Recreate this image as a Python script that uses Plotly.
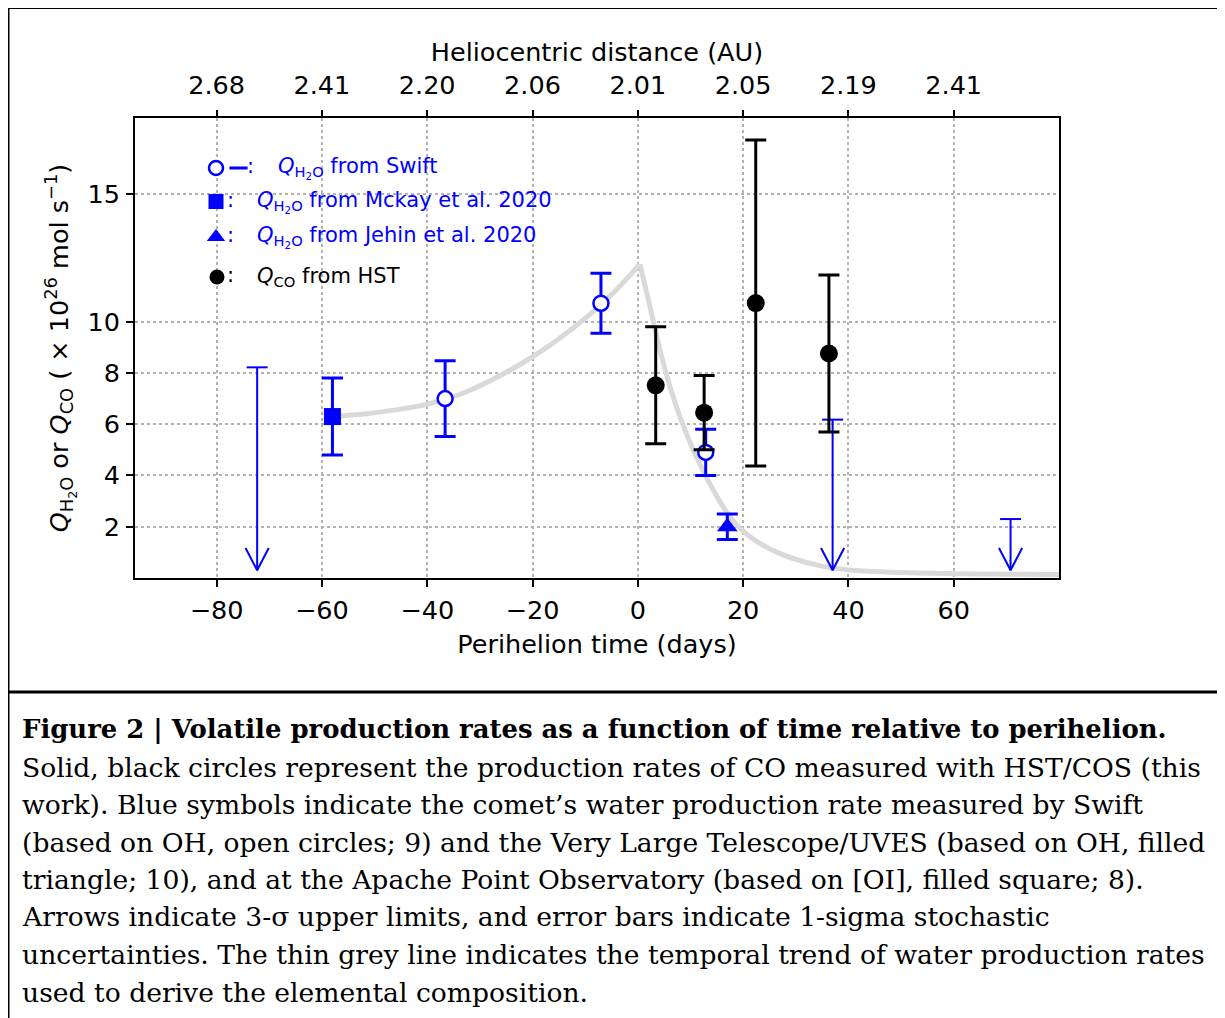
import plotly.graph_objects as go

# ---------------- data ----------------
swift_t = [-36.6, -7.0, 12.9]
swift_q = [7.0, 10.72, 4.9]
swift_err = [1.48, 1.17, 0.9]

mckay_t = [-58.0]
mckay_q = [6.3]
mckay_err = [1.5]

jehin_t = [17.0]
jehin_q = [2.0]
jehin_err = [0.5]

hst_t = [3.4, 12.6, 22.4, 36.3]
hst_q = [7.52, 6.45, 10.73, 8.76]
hst_err = [2.28, 1.45, 6.36, 3.06]

lim_t = [-72.3, 37.0, 70.8]
lim_top = [8.22, 6.18, 2.3]
lim_tip = [0.3, 0.3, 0.3]

# grey trend line, before and after the peak
trend_pre_t = [-58, -52, -46, -40, -34, -28, -22, -16, -10, -5, 0.4]
trend_pre_q = [6.30, 6.40, 6.56, 6.78, 7.15, 7.70, 8.38, 9.18, 10.13, 11.05, 12.25]
trend_post_t = [0.4, 2.3, 4.2, 6.1, 8.0, 11.1, 14.3, 17.5, 21.3, 26.9, 33.9, 40.2, 50, 60, 70, 80]
trend_post_q = [12.25, 10.6, 8.9, 7.47, 6.3, 4.74, 3.44, 2.39, 1.61, 0.96, 0.51, 0.31, 0.21, 0.17, 0.15, 0.14]

time_ticks = [-80, -60, -40, -20, 0, 20, 40, 60]
dist_labels = ["2.68", "2.41", "2.20", "2.06", "2.01", "2.05", "2.19", "2.41"]
y_ticks = [2, 4, 6, 8, 10, 15]

caption_title = "Figure 2 | Volatile production rates as a function of time relative to perihelion."
caption_lines = [
    "Solid, black circles represent the production rates of CO measured with HST/COS (this",
    "work). Blue symbols indicate the comet\u2019s water production rate measured by Swift",
    "(based on OH, open circles; 9) and the Very Large Telescope/UVES (based on OH, filled",
    "triangle; 10), and at the Apache Point Observatory (based on [OI], filled square; 8).",
    "Arrows indicate 3-\u03c3 upper limits, and error bars indicate 1-sigma stochastic",
    "uncertainties. The thin grey line indicates the temporal trend of water production rates",
    "used to derive the elemental composition.",
]

# ---------------- styling ----------------
BLUE = "#0000ff"
BLACK = "#000000"
GRID = "#b3b3b3"
FONT = "DejaVu Sans"
TICK_SIZE = 25.5
ARROW_HW = 2.2      # half-width of arrow head (days)
ARROW_DEPTH = 0.87  # depth of arrow head (y units)

# layout geometry (pixels); page body adds an 8px offset
OFF = 8
W, H = 1225, 1018
PL, PR, PT, PB = 135 - OFF, 1059 - OFF, 118 - OFF, 578 - OFF


def px(x):
    return ((x - OFF) - PL) / (PR - PL)


def py(y):
    return (PB - (y - OFF)) / (PB - PT)


fig = go.Figure()

# trend line
for tt, tq in ((trend_pre_t, trend_pre_q), (trend_post_t, trend_post_q)):
    fig.add_trace(go.Scatter(x=tt, y=tq, mode="lines",
                             line=dict(color="#d9d9d9", width=5, shape="spline", smoothing=0.8),
                             hoverinfo="skip"))

# upper limits: shaft, head, cap
sx, sy, vx, vy = [], [], [], []
for t, top, tip in zip(lim_t, lim_top, lim_tip):
    sx += [t, t, None]
    sy += [top, tip, None]
    vx += [t - ARROW_HW, t, t + ARROW_HW, None]
    vy += [tip + ARROW_DEPTH, tip, tip + ARROW_DEPTH, None]
fig.add_trace(go.Scatter(x=sx, y=sy, mode="lines", line=dict(color=BLUE, width=2)))
fig.add_trace(go.Scatter(x=vx, y=vy, mode="lines", line=dict(color=BLUE, width=2)))
fig.add_trace(go.Scatter(x=lim_t, y=lim_top, mode="markers",
                         marker=dict(symbol="line-ew", size=15, line=dict(color=BLUE, width=2))))

# Mckay square
fig.add_trace(go.Scatter(x=mckay_t, y=mckay_q, mode="markers",
                         marker=dict(symbol="square", size=17, color=BLUE),
                         error_y=dict(type="data", array=mckay_err, color=BLUE, thickness=3, width=10.5)))
# Jehin triangle
fig.add_trace(go.Scatter(x=jehin_t, y=jehin_q, mode="markers",
                         marker=dict(symbol="triangle-up", size=18, color=BLUE),
                         error_y=dict(type="data", array=jehin_err, color=BLUE, thickness=3, width=10.5)))
# Swift open circles
fig.add_trace(go.Scatter(x=swift_t, y=swift_q, mode="markers",
                         marker=dict(symbol="circle", size=15, color="white", line=dict(color=BLUE, width=2.5)),
                         error_y=dict(type="data", array=swift_err, color=BLUE, thickness=3, width=10.5)))
# HST black circles
fig.add_trace(go.Scatter(x=hst_t, y=hst_q, mode="markers",
                         marker=dict(symbol="circle", size=18, color=BLACK),
                         error_y=dict(type="data", array=hst_err, color=BLACK, thickness=3, width=10.5)))

# dummy trace for top axis
fig.add_trace(go.Scatter(x=time_ticks, y=[None] * len(time_ticks), xaxis="x2", mode="markers",
                         hoverinfo="skip"))

# legend markers on an overlay axis in [0,1] space
leg_x = [px(216), px(216), px(216), px(217)]
leg_y = [py(168), py(201.5), py(237), py(277)]
leg_sym = ["circle", "square", "triangle-up", "circle"]
leg_col = ["white", BLUE, BLUE, BLACK]
leg_line = [BLUE, BLUE, BLUE, BLACK]
leg_lw = [2.5, 0, 0, 0]
leg_size = [14, 15, 16, 15]
fig.add_trace(go.Scatter(x=leg_x, y=leg_y, xaxis="x3", yaxis="y3", mode="markers",
                         marker=dict(symbol=leg_sym, size=leg_size, color=leg_col, opacity=1,
                                     line=dict(color=leg_line, width=leg_lw)),
                         cliponaxis=False, hoverinfo="skip"))
fig.add_trace(go.Scatter(x=[px(238.5)], y=[py(168)], xaxis="x3", yaxis="y3", mode="markers",
                         marker=dict(symbol="line-ew", size=13, opacity=1, line=dict(color=BLUE, width=3)),
                         cliponaxis=False, hoverinfo="skip"))

QH2O = "<i>Q</i><sub>H<sub>2</sub>O</sub>"
QCO = "<i>Q</i><sub>CO</sub>"
leg_rows = [
    (250.5, 276, 168, QH2O + " from Swift", BLUE),
    (230, 255, 202, QH2O + " from Mckay et al. 2020", BLUE),
    (230, 255, 237, QH2O + " from Jehin et al. 2020", BLUE),
    (230, 255, 277, QCO + " from HST", BLACK),
]
annotations = []
for cx, tx, ty, txt, col in leg_rows:
    annotations.append(dict(x=px(cx), y=py(ty - 2), xref="paper", yref="paper", text=":",
                            showarrow=False, xanchor="center", yanchor="middle",
                            font=dict(family=FONT, size=21, color=col)))
    annotations.append(dict(x=px(tx), y=py(ty), xref="paper", yref="paper", text=txt,
                            showarrow=False, xanchor="left", yanchor="middle",
                            font=dict(family=FONT, size=21, color=col)))

# caption
CAP_FONT = "DejaVu Serif"
CAP_SIZE = 26.6
CAP_TITLE_SIZE = 25.9
annotations.append(dict(x=px(20), y=py(729), xref="paper", yref="paper",
                        text="<b>" + caption_title + "</b>", showarrow=False,
                        xanchor="left", yanchor="middle",
                        font=dict(family=CAP_FONT, size=CAP_TITLE_SIZE, color=BLACK)))
for i, line in enumerate(caption_lines):
    annotations.append(dict(x=px(20), y=py(767 + i * 37.5), xref="paper", yref="paper",
                            text=line, showarrow=False, xanchor="left", yanchor="middle",
                            font=dict(family=CAP_FONT, size=CAP_SIZE, color=BLACK)))

# frame lines
shapes = [
    dict(type="line", xref="paper", yref="paper", x0=px(6.5), x1=px(1240), y0=py(7.5), y1=py(7.5),
         line=dict(color=BLACK, width=3)),
    dict(type="line", xref="paper", yref="paper", x0=px(8), x1=px(8), y0=py(6), y1=py(1030),
         line=dict(color=BLACK, width=3)),
    dict(type="line", xref="paper", yref="paper", x0=px(6.5), x1=px(1240), y0=py(692), y1=py(692),
         line=dict(color=BLACK, width=3)),
]

XR = [-95.5, 80]
axis_common = dict(tickfont=dict(family=FONT, size=TICK_SIZE, color=BLACK),
                   ticks="outside", ticklen=7, tickwidth=2, tickcolor=BLACK, zeroline=False)

fig.update_layout(
    width=W, height=H, autosize=False,
    margin=dict(l=PL, r=W - PR, t=PT, b=H - PB, pad=0),
    paper_bgcolor="white", plot_bgcolor="white",
    showlegend=False,
    font=dict(family=FONT, color=BLACK),
    xaxis=dict(range=XR, tickvals=time_ticks, showline=True, linewidth=2, linecolor=BLACK,
               mirror=True, showgrid=True, griddash="dot", gridcolor=GRID, gridwidth=1.5,
               ticklabelstandoff=1,
               title=dict(text="Perihelion time (days)", font=dict(family=FONT, size=TICK_SIZE),
                          standoff=12),
               **axis_common),
    xaxis2=dict(range=XR, overlaying="x", side="top", anchor="y", tickvals=time_ticks,
                ticktext=dist_labels, showgrid=False, showline=False, ticklabelstandoff=6,
                title=dict(text="Heliocentric distance (AU)", font=dict(family=FONT, size=TICK_SIZE),
                           standoff=0),
                **axis_common),
    yaxis=dict(range=[0, 17.95], tickvals=y_ticks, showline=True, linewidth=2, linecolor=BLACK,
               mirror=True, showgrid=True, griddash="dot", gridcolor=GRID, gridwidth=1.5,
               ticklabelstandoff=1,
               title=dict(text=QH2O + " or " + QCO + " ( \u00d7 10<sup>26</sup> mol s<sup>\u22121</sup>)",
                          font=dict(family=FONT, size=TICK_SIZE), standoff=12),
               **axis_common),
    xaxis3=dict(range=[0, 1], overlaying="x", anchor="y3", visible=False, showticklabels=False,
                showgrid=False, zeroline=False, fixedrange=True),
    yaxis3=dict(range=[0, 1], overlaying="y", anchor="x3", visible=False, showticklabels=False,
                showgrid=False, zeroline=False, fixedrange=True),
    annotations=annotations,
    shapes=shapes,
)

fig.write_html("out.html")
